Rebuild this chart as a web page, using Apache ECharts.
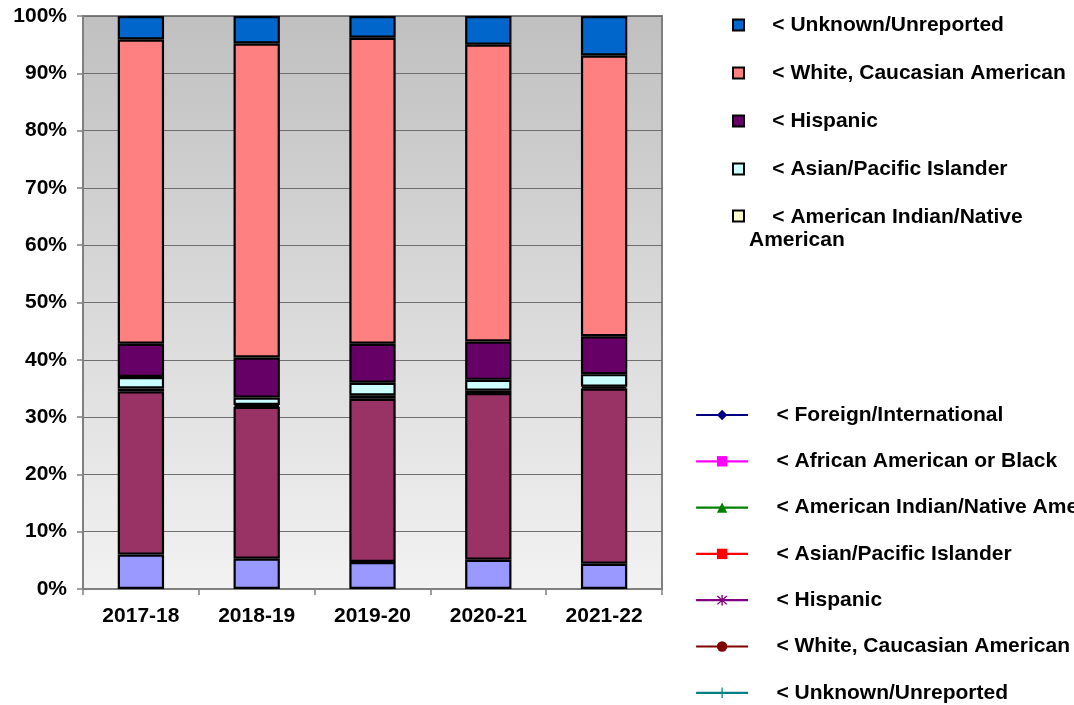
<!DOCTYPE html>
<html>
<head>
<meta charset="utf-8">
<script src="https://cdn.jsdelivr.net/npm/echarts@6/dist/echarts.min.js"></script>
<style>
html,body{margin:0;padding:0;background:#fff;}
#chart{width:1074px;height:705px;}
</style>
</head>
<body>
<div id="chart"></div>
<script>
const categories = ['2017-18', '2018-19', '2019-20', '2020-21', '2021-22'];
const yTickLabels = ['0%','10%','20%','30%','40%','50%','60%','70%','80%','90%','100%'];

const foreignIntl   = [6.0, 5.3, 4.7, 5.1, 4.4];
const africanAmer   = [28.5, 26.5, 28.5, 29.1, 30.6];
const amerIndian    = [0.5, 0.3, 0.6, 0.4, 0.3];
const asianPacific  = [2.0, 1.3, 2.2, 1.9, 2.2];
const hispanic      = [5.8, 7.0, 6.8, 6.7, 6.6];
const whiteCauc     = [53.1, 54.8, 53.4, 51.8, 49.0];
const unknownUnrep  = [4.1, 4.8, 3.8, 5.0, 6.9];

const barNames = ['< Foreign/International', '< African American or Black', '< American Indian/Native American',
  '< Asian/Pacific Islander', '< Hispanic', '< White, Caucasian American', '< Unknown/Unreported'];
const barValues = [foreignIntl, africanAmer, amerIndian, asianPacific, hispanic, whiteCauc, unknownUnrep];
const barColors = ['#9999FF', '#993366', '#FFFFCC', '#CCFFFF', '#660066', '#FF8080', '#0066CC'];

const lineColors = ['#000080', '#FF00FF', '#008000', '#FF0000', '#800080', '#800000', '#008080'];
const asteriskPath = 'path://M4.4,0H5.6V10H4.4Z M0.6,1.4L1.4,0.6L9.4,8.6L8.6,9.4Z M8.6,0.6L9.4,1.4L1.4,9.4L0.6,8.6Z';
const plusPath = 'path://M4.4,0H5.6V10H4.4Z M0,4.4H10V5.6H0Z';
const lineSymbols = ['diamond', 'rect', 'triangle', 'rect', asteriskPath, 'circle', plusPath];

const FONT = '"Liberation Sans", Arial, sans-serif';
const FS = 21;

const series = [];
barNames.forEach((n, i) => {
  series.push({
    name: n, type: 'bar', stack: 'total', barWidth: '40%',
    data: barValues[i],
    itemStyle: { color: barColors[i], borderColor: '#000', borderWidth: 2.2 },
    emphasis: { disabled: true }
  });
});
barNames.forEach((n, i) => {
  series.push({
    name: n + ' ', type: 'line', data: [],
    symbol: lineSymbols[i], symbolSize: 10,
    itemStyle: { color: lineColors[i] },
    lineStyle: { color: lineColors[i], width: 2.2 }
  });
});

const topLegendNames = ['< Unknown/Unreported', '< White, Caucasian American', '< Hispanic', '< Asian/Pacific Islander'];
const legendTextStyle = { fontFamily: FONT, fontWeight: 'bold', fontSize: FS, color: '#000' };

const chart = echarts.init(document.getElementById('chart'), null, { renderer: 'canvas' });
chart.setOption({
  animation: false,
  backgroundColor: '#ffffff',
  textStyle: { fontFamily: FONT },
  grid: {
    left: 83, right: 412, top: 16, bottom: 116,
    show: true,
    borderColor: '#808080', borderWidth: 2,
    backgroundColor: { type: 'linear', x: 0, y: 0, x2: 0, y2: 1,
      colorStops: [{ offset: 0, color: '#C0C0C0' }, { offset: 1, color: '#F2F2F2' }] }
  },
  legend: [
    {
      left: 732, top: 13, orient: 'vertical', padding: 0,
      itemWidth: 11, itemHeight: 11, itemGap: 24,
      icon: 'rect', selectedMode: false,
      textStyle: Object.assign({ lineHeight: 24 }, legendTextStyle),
      formatter: function (name) { return '    ' + name; },
      data: topLegendNames
    },
    {
      left: 732, top: 207, orient: 'vertical', padding: 0,
      itemWidth: 11, itemHeight: 11,
      icon: 'rect', selectedMode: false,
      textStyle: Object.assign({
        rich: {
          a: Object.assign({ lineHeight: 49, verticalAlign: 'bottom' }, legendTextStyle),
          b: Object.assign({ lineHeight: 25 }, legendTextStyle)
        }
      }, legendTextStyle),
      formatter: function () { return '{a|    < American Indian/Native}\n{b|American}'; },
      data: ['< American Indian/Native American']
    },
    {
      left: 695, top: 404, height: 330, orient: 'vertical', padding: 0,
      itemWidth: 52, itemHeight: 13, itemGap: 24.3,
      selectedMode: false,
      lineStyle: { width: 2.2 },
      textStyle: Object.assign({ lineHeight: 22 }, legendTextStyle),
      formatter: function (name) { return '    ' + name.trim(); },
      data: barNames.map(n => n + ' ')
    }
  ],
  xAxis: {
    type: 'category', data: categories, boundaryGap: true,
    axisLine: { show: true, lineStyle: { color: '#808080', width: 2 } },
    axisTick: { show: true, alignWithLabel: false, length: 6, lineStyle: { color: '#808080', width: 1.5 } },
    axisLabel: { fontFamily: FONT, fontWeight: 'bold', fontSize: FS, color: '#000', margin: 17 },
    splitLine: { show: false }
  },
  yAxis: {
    type: 'value', min: 0, max: 100, interval: 10,
    axisLine: { show: true, lineStyle: { color: '#808080', width: 2 } },
    axisTick: { show: true, length: 6, lineStyle: { color: '#808080', width: 1.5 } },
    axisLabel: { fontFamily: FONT, fontWeight: 'bold', fontSize: FS, color: '#000', margin: 16,
      formatter: function (v) { return yTickLabels[Math.round(v / 10)]; } },
    splitLine: { show: true, lineStyle: { color: '#6e6e6e', width: 1 } }
  },
  series: series
});
</script>
</body>
</html>
